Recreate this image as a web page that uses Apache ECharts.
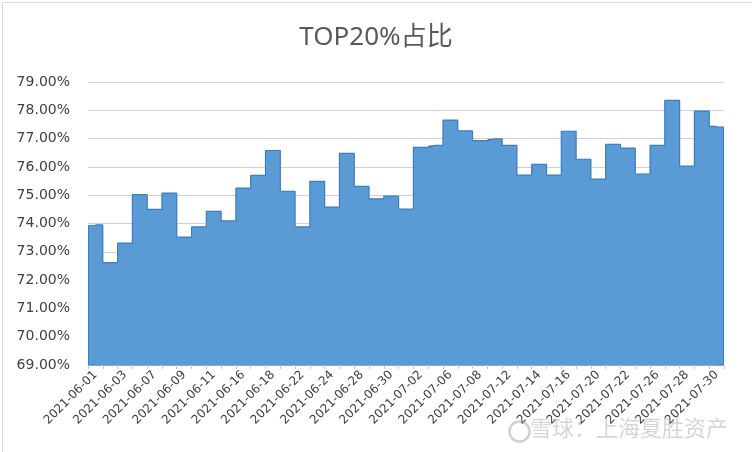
<!DOCTYPE html>
<html><head><meta charset="utf-8">
<script src="https://cdn.jsdelivr.net/npm/echarts@6/dist/echarts.min.js"></script>
<style>html,body{margin:0;padding:0;background:#fff}#c{width:752px;height:452px}</style>
</head><body><div id="c"></div>
<script>
const categories = ["2021-06-01","2021-06-02","2021-06-03","2021-06-04","2021-06-07","2021-06-08","2021-06-09","2021-06-10","2021-06-11","2021-06-15","2021-06-16","2021-06-17","2021-06-18","2021-06-21","2021-06-22","2021-06-23","2021-06-24","2021-06-25","2021-06-28","2021-06-29","2021-06-30","2021-07-01","2021-07-02","2021-07-05","2021-07-06","2021-07-07","2021-07-08","2021-07-09","2021-07-12","2021-07-13","2021-07-14","2021-07-15","2021-07-16","2021-07-19","2021-07-20","2021-07-21","2021-07-22","2021-07-23","2021-07-26","2021-07-27","2021-07-28","2021-07-29","2021-07-30"];
const top20Share = [73.95,72.62,73.31,75.02,74.50,75.07,73.52,73.88,74.43,74.09,75.25,75.70,76.58,75.14,73.88,75.49,74.58,76.48,75.31,74.87,74.97,74.51,76.69,76.76,77.65,77.27,76.93,76.99,76.76,75.71,76.09,75.71,77.26,76.27,75.57,76.80,76.66,75.75,76.76,78.35,76.03,77.97,77.43];
const yMin = 69, yMax = 79, yStep = 1;
const titleText = "TOP20%占比";
const watermarkText = "雪球：上海夏胜资产";

const chart = echarts.init(document.getElementById('c'));
chart.setOption({
  animation: false,
  backgroundColor: '#fff',
  title: {
    text: titleText, left: 'center', top: 20,
    textStyle: {fontFamily: 'Noto Sans, Noto Sans CJK SC', fontSize: 26, fontWeight: 'normal', color: '#595959'}
  },
  grid: {left: 88, right: 28, top: 82, bottom: 87, containLabel: false},
  xAxis: {
    type: 'category', data: categories, boundaryGap: true,
    splitLine: {show: false},
    axisLine: {lineStyle: {color: '#d0d0d0', width: 1}},
    axisTick: {show: true, alignWithLabel: false, interval: 0, length: 4, lineStyle: {color: '#c8c8c8'}},
    axisLabel: {interval: 1, rotate: 45, fontFamily: 'DejaVu Sans', fontSize: 12, color: '#404040', margin: 8}
  },
  yAxis: {
    type: 'value', min: yMin, max: yMax, interval: yStep,
    axisLine: {show: false}, axisTick: {show: false},
    splitLine: {lineStyle: {color: '#d0d0d0', width: 1}},
    axisLabel: {formatter: v => v.toFixed(2) + '%', fontFamily: 'DejaVu Sans', fontSize: 14, color: '#404040', margin: 18}
  },
  series: [{
    type: 'bar', data: top20Share, barWidth: '100%',
    itemStyle: {color: '#5b9bd5', borderColor: '#3d7cc4', borderWidth: 1},
    emphasis: {disabled: true}
  }, {
    type: 'line', data: top20Share, step: 'middle', symbol: 'none',
    lineStyle: {color: '#3d7cc4', width: 1.2},
    areaStyle: {color: '#5b9bd5', opacity: 1, origin: 'start'},
    z: 3, silent: true
  }],
  graphic: [
    {type: 'rect', left: 0, top: 0, shape: {x: 0.5, y: 0.5, width: 750, height: 450}, style: {fill: 'none', stroke: '#d9d9d9', lineWidth: 1}, silent: true},
    {type: 'circle', left: 507, top: 419, shape: {r: 10}, style: {fill: 'none', stroke: 'rgba(150,150,150,0.45)', lineWidth: 2.5}, silent: true, z: 100},
    {type: 'text', left: 530, top: 417, style: {text: watermarkText, font: '22px "Noto Sans CJK SC"', fill: 'rgba(150,150,150,0.4)'}, silent: true, z: 100}
  ]
});
</script></body></html>
